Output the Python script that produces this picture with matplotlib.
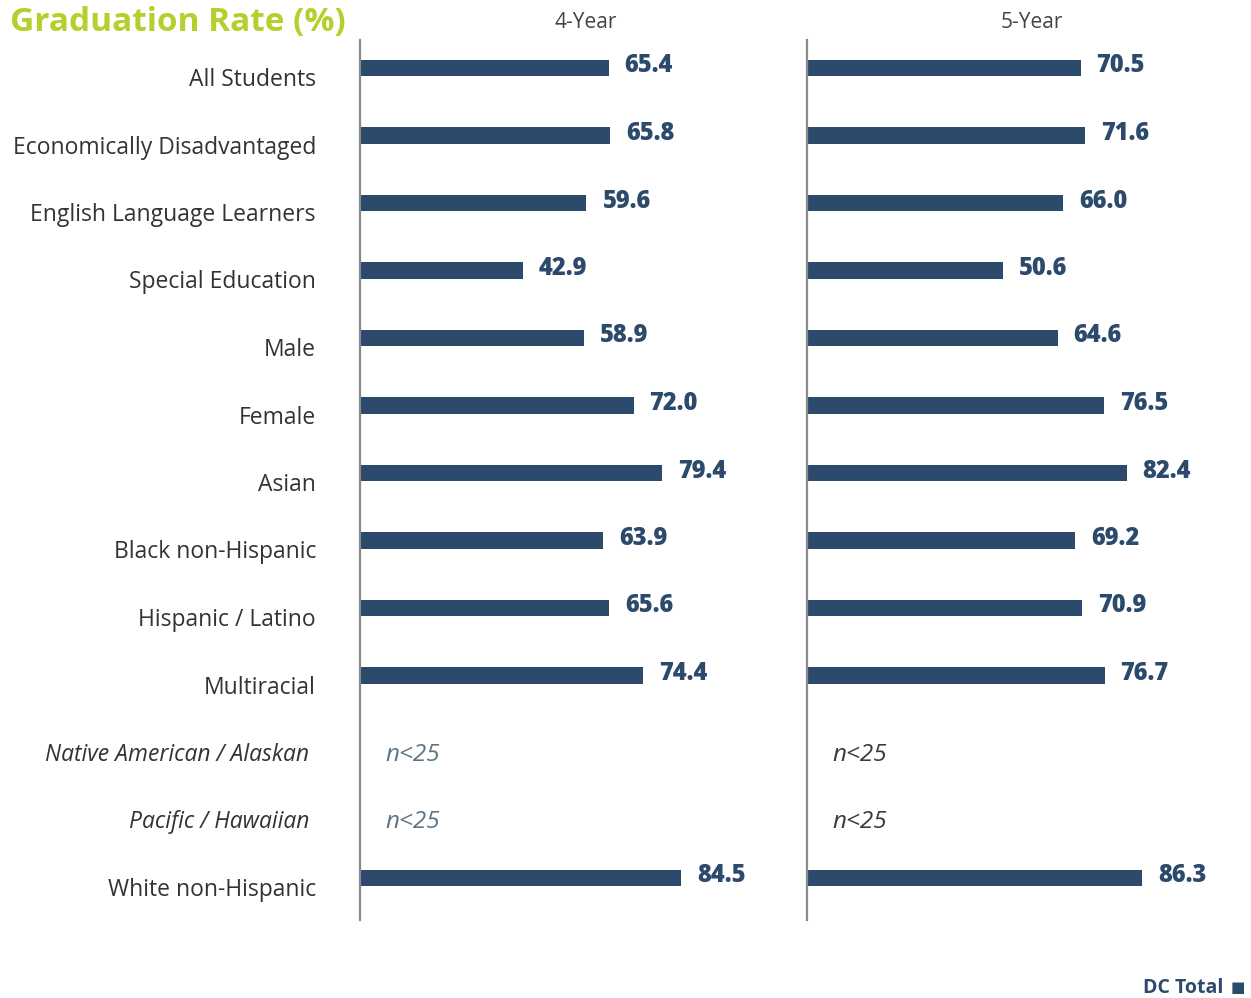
import matplotlib

matplotlib.use("Agg")
import matplotlib.pyplot as plt

categories = [
    "All Students", "Economically Disadvantaged", "English Language Learners",
    "Special Education", "Male", "Female", "Asian", "Black non-Hispanic",
    "Hispanic / Latino", "Multiracial", "Native American / Alaskan",
    "Pacific / Hawaiian", "White non-Hispanic",
]
italic_rows = {"Native American / Alaskan", "Pacific / Hawaiian"}
four_year = [65.4, 65.8, 59.6, 42.9, 58.9, 72.0, 79.4, 63.9, 65.6, 74.4, None, None, 84.5]
five_year = [70.5, 71.6, 66.0, 50.6, 64.6, 76.5, 82.4, 69.2, 70.9, 76.7, None, None, 86.3]

BAR = "#2c4a6c"
GREEN = "#b6cf2c"
FONT = ["Open Sans", "DejaVu Sans"]
plt.rcParams["font.family"] = FONT

fig = plt.figure(figsize=(12.51, 9.98), dpi=100)
bottom, height = 1 - 920 / 998, 880 / 998
ax1 = fig.add_axes([360 / 1251, bottom, 380 / 1251, height])
ax2 = fig.add_axes([807 / 1251, bottom, 388 / 1251, height])

rows = list(range(len(categories)))


def draw_panel(ax, values, header, hx, nc_color):
    for i, v in zip(rows, values):
        if v is None:
            ax.annotate("n<25", xy=(0, i), xycoords=("axes fraction", "data"),
                        xytext=(25, -12), textcoords="offset pixels",
                        ha="left", va="center", fontsize=17.5, style="italic",
                        color=nc_color)
            continue
        ax.barh(i, v, height=0.24, color=BAR, edgecolor="none")
        ax.annotate(f"{v:.1f}", xy=(v, i), xytext=(16, 2),
                    textcoords="offset pixels", ha="left", va="center",
                    fontsize=17, fontweight="heavy", color=BAR)
    ax.set_xlim(0, 100)
    ax.set_ylim(12 + 42 / 67.5, -28 / 67.5)
    for s in ["top", "right", "bottom"]:
        ax.spines[s].set_visible(False)
    ax.spines["left"].set_color("#8a8a8a")
    ax.spines["left"].set_linewidth(1.6)
    ax.set_xticks([])
    ax.set_yticks([])
    ax.patch.set_alpha(0)
    fig.text(hx / 1251, 1 - 23 / 998, header, ha="center", va="center",
             fontsize=15, color="#444444")


draw_panel(ax1, four_year, "4-Year", 586, "#5b7585")
draw_panel(ax2, five_year, "5-Year", 1032, "#3a3a3a")

for i, name in zip(rows, categories):
    it = name in italic_rows
    ax1.annotate(name, xy=(0, i), xycoords=("axes fraction", "data"),
                 xytext=(-44 - (7 if it else 0), -12), textcoords="offset pixels",
                 ha="right", va="center", fontsize=16.5,
                 style="italic" if it else "normal", color="#333333")

fig.text(10 / 1251, 1 - 22 / 998, "Graduation Rate (%)", ha="left", va="center",
         fontsize=24, fontweight="bold", color=GREEN)
fig.text(1223 / 1251, 1 - 988 / 998, "DC Total", ha="right", va="center",
         fontsize=14, fontweight="bold", color=BAR)
fig.text(1238 / 1251, 1 - 987 / 998, "\u25a0", ha="center", va="center",
         fontsize=11, color=BAR, family="DejaVu Sans")

fig.savefig("out.png", dpi=100, facecolor="white")
